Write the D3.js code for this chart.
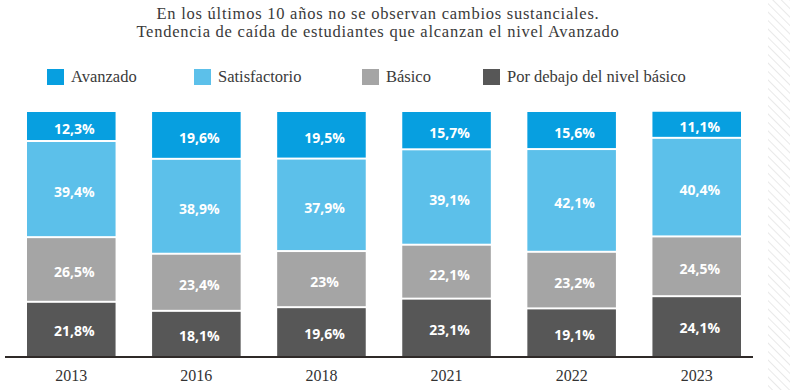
<!DOCTYPE html>
<html><head><meta charset="utf-8">
<script src="https://cdn.jsdelivr.net/npm/d3@7"></script>
<style>body{margin:0;background:#fff}svg{display:block}</style>
</head><body><svg id="c" width="790" height="390"></svg>
<script>
const years = ["2013","2016","2018","2021","2022","2023"];
const seriesNames = ["Por debajo del nivel básico","Básico","Satisfactorio","Avanzado"];
const porDebajo = [21.8,18.1,19.6,23.1,19.1,24.1];
const basico = [26.5,23.4,23.0,22.1,23.2,24.5];
const satisfactorio = [39.4,38.9,37.9,39.1,42.1,40.4];
const avanzado = [12.3,19.6,19.5,15.7,15.6,11.1];
const labelsPorDebajo = ["21,8%","18,1%","19,6%","23,1%","19,1%","24,1%"];
const labelsBasico = ["26,5%","23,4%","23%","22,1%","23,2%","24,5%"];
const labelsSatisfactorio = ["39,4%","38,9%","37,9%","39,1%","42,1%","40,4%"];
const labelsAvanzado = ["12,3%","19,6%","19,5%","15,7%","15,6%","11,1%"];
const legendOrder = ["Avanzado","Satisfactorio","Básico","Por debajo del nivel básico"];
const titleLines = ["En los últimos 10 años no se observan cambios sustanciales.","Tendencia de caída de estudiantes que alcanzan el nivel Avanzado"];

const colors = {"Avanzado":"#079fe0","Satisfactorio":"#5cc0ea","Básico":"#a5a5a5","Por debajo del nivel básico":"#575757"};
const valuesBy = {"Por debajo del nivel básico":porDebajo,"Básico":basico,"Satisfactorio":satisfactorio,"Avanzado":avanzado};
const labelsBy = {"Por debajo del nivel básico":labelsPorDebajo,"Básico":labelsBasico,"Satisfactorio":labelsSatisfactorio,"Avanzado":labelsAvanzado};

const table = years.map((y,i)=>{const o={year:y,i:i};seriesNames.forEach(s=>o[s]=valuesBy[s][i]);return o;});
const stacked = d3.stack().keys(seriesNames)(table);

const svg = d3.select("#c");
const serif = "'Liberation Serif', serif";

// hatch on right edge
const defs = svg.append("defs");
const pat = defs.append("pattern").attr("id","hatch").attr("patternUnits","userSpaceOnUse")
  .attr("width",6).attr("height",6).attr("patternTransform","rotate(-45)");
pat.append("line").attr("x1",0).attr("y1",0).attr("x2",0).attr("y2",6).attr("stroke","#e4e4e4").attr("stroke-width",1.6);
svg.append("rect").attr("x",768).attr("y",0).attr("width",22).attr("height",390).attr("fill","url(#hatch)");

// title
svg.append("g").selectAll("text").data(titleLines).join("text")
  .attr("x",378).attr("y",(d,i)=>18.5+i*18).attr("text-anchor","middle")
  .attr("font-family",serif).attr("font-size",16.5).attr("letter-spacing",0.75).attr("fill","#3a3a3a").text(d=>d);

// legend
const legX = [47,194,362,483];
const lg = svg.append("g").selectAll("g").data(legendOrder).join("g")
  .attr("transform",(d,i)=>`translate(${legX[i]},69)`);
lg.append("rect").attr("width",17).attr("height",16).attr("fill",d=>colors[d]);
lg.append("text").attr("x",24).attr("y",12.7).attr("font-family",serif).attr("font-size",16.5).attr("fill","#3a3a3a").text(d=>d);

// scales
const x = d3.scaleBand().domain(years).range([27,741]).paddingInner(0.292).paddingOuter(0);
const y = d3.scaleLinear().domain([0,100]).range([356,112]);

const gBars = svg.append("g");
stacked.forEach(layer=>{
  const key = layer.key;
  const g = gBars.append("g");
  g.selectAll("rect").data(layer).join("rect")
    .attr("x",d=>x(d.data.year))
    .attr("width",x.bandwidth())
    .attr("y",d=>y(d[1]))
    .attr("height",d=>y(d[0])-y(d[1])-(d[0]>0?2:0))
    .attr("fill",colors[key]);
  g.selectAll("text").data(layer).join("text")
    .attr("x",d=>x(d.data.year)+x.bandwidth()/2+3)
    .attr("y",d=>(y(d[0])+y(d[1]))/2+2)
    .attr("dy","0.35em")
    .attr("text-anchor","middle")
    .attr("font-family","'Open Sans', sans-serif").attr("font-weight",700).attr("font-size",14)
    .attr("fill","#fff")
    .text((d,i)=>labelsBy[key][d.data.i]);
});

// axis
const axis = d3.axisBottom(x).tickSize(0).tickPadding(13);
const ax = svg.append("g").attr("transform","translate(0,357)").call(axis);
ax.select(".domain").remove();
ax.selectAll("text").attr("font-family",serif).attr("font-size",16).attr("fill","#333");
svg.append("line").attr("x1",5).attr("x2",753).attr("y1",357).attr("y2",357).attr("stroke","#2f2a28").attr("stroke-width",2);
</script></body></html>
